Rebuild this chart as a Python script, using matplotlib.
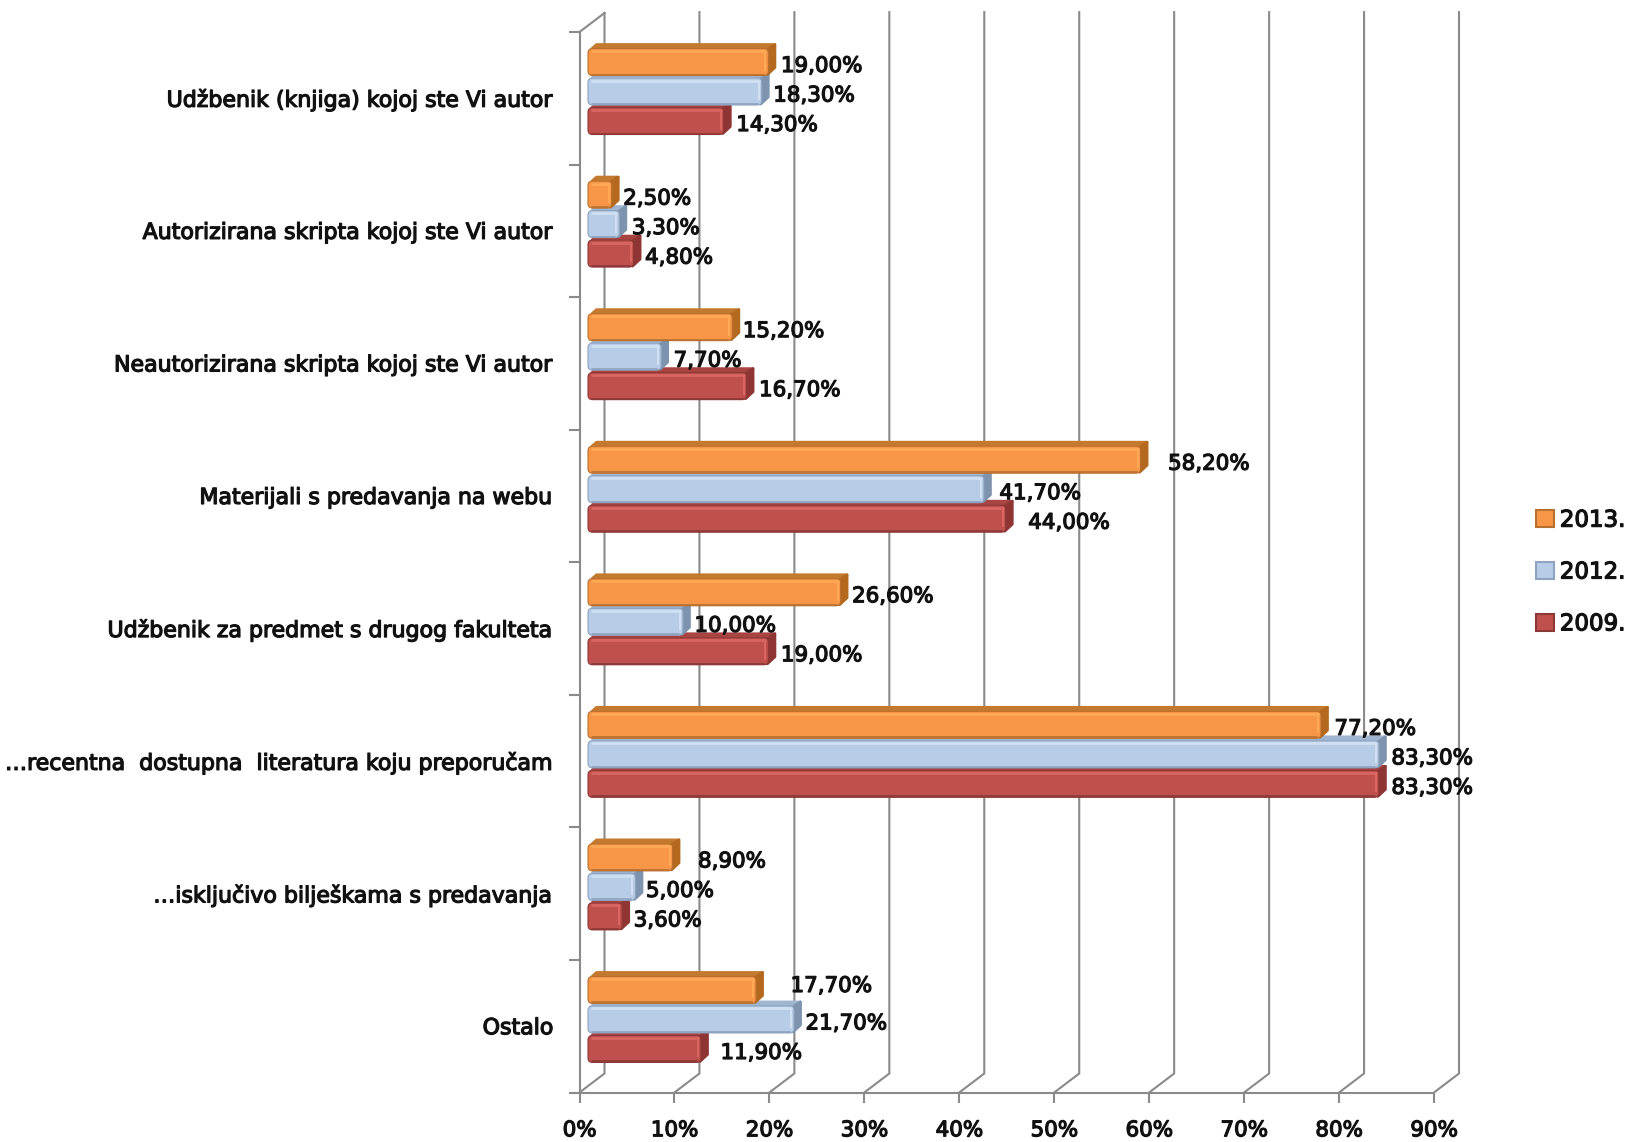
import matplotlib
matplotlib.use('Agg')
import matplotlib.pyplot as plt
import matplotlib.patheffects as pe
from matplotlib.patches import FancyBboxPatch, Polygon, Patch

# datos
categorias = ["Udžbenik (knjiga) kojoj ste Vi autor", "Autorizirana skripta kojoj ste Vi autor",
              "Neautorizirana skripta kojoj ste Vi autor", "Materijali s predavanja na webu",
              "Udžbenik za predmet s drugog fakulteta", "…recentna  dostupna  literatura koju preporučam",
              "…isključivo bilješkama s predavanja", "Ostalo"]
val_2013 = [19.0, 2.5, 15.2, 58.2, 26.6, 77.2, 8.9, 17.7]
val_2012 = [18.3, 3.3, 7.7, 41.7, 10.0, 83.3, 5.0, 21.7]
val_2009 = [14.3, 4.8, 16.7, 44.0, 19.0, 83.3, 3.6, 11.9]
anios = ["2013.", "2012.", "2009."]
ticks_x = [0, 10, 20, 30, 40, 50, 60, 70, 80, 90]

# separacion de cada etiqueta respecto a su barra (px), como en el original
gap_2013 = [5, 4, 3, 20, 4, 6, 18, 27]
gap_2012 = [4, 5, 5, 8, 4, 5, 3, 4]
gap_2009 = [5, 4, 5, 15, 5, 5, 4, 12]
sube_2013 = [0, 0, 0, 0, 0, 0, 0, 8]

W, H = 1628, 1142
fig = plt.figure(figsize=(W / 100, H / 100), dpi=100)
ax = fig.add_axes([579.5 / W, 1 - 1092.5 / H, 854.5 / W, 1060.5 / H])
ax.set_xlim(0, 90)
ax.set_ylim(8, 0)

px_x = 90 / 854.5
px_y = 8 / 1060.5
grid_col = '#8a8a8a'
lw_grid = 1.5
pared_x = 25 * px_x
pared_y = 19 * px_y
texto = 15.4
# DejaVu normal con un trazo fino: mas parecido al negrita estrecho del original
grueso = [pe.withStroke(linewidth=0.9, foreground='#111111')]

# paredes y cuadricula falsa 3D
for t in ticks_x:
    ax.plot([t, t + pared_x, t + pared_x], [8, 8 - pared_y, -0.15 if t else -pared_y],
            color=grid_col, lw=lw_grid, clip_on=False, zorder=1, solid_joinstyle='miter')
ax.plot([0, pared_x], [0, -pared_y], color=grid_col, lw=lw_grid, clip_on=False, zorder=1)

for s in ['top', 'right']:
    ax.spines[s].set_visible(False)
for s in ['left', 'bottom']:
    ax.spines[s].set_color(grid_col)
    ax.spines[s].set_linewidth(lw_grid)

ax.set_xticks(ticks_x)
ax.set_xticklabels([f"{t}%" for t in ticks_x], fontsize=texto, color='#111111', path_effects=grueso)
ax.tick_params(axis='x', length=7, width=lw_grid, color=grid_col, pad=13)
ax.set_yticks(range(9))
ax.set_yticklabels([])
ax.tick_params(axis='y', length=8, width=lw_grid, color=grid_col)

# nombres de categoria (en el centro de cada banda)
for i, c in enumerate(categorias):
    ax.annotate(c, (0, i + 0.5), xytext=(-26, -2), textcoords='offset pixels', ha='right', va='center',
                fontsize=15.9, color='#111111', annotation_clip=False, path_effects=grueso)

inicio = 8.5 * px_x
prof_x = 7.5 * px_x
prof_y = 5.5 * px_y
alto = 27 * px_y
paso = 29.5 * px_y
centro = 0.449
aspecto = px_y / px_x


def barra(y, v, cara, claro, oscuro, lado, techo, gap, sube, z):
    x0, x1 = inicio, inicio + v
    y0, y1 = y - alto / 2, y + alto / 2
    # techo y lado con esquinas suaves
    ax.add_patch(Polygon([(x0 + 4 * px_x, y0), (x0 + prof_x + 1 * px_x, y0 - prof_y + 1.5 * px_y),
                          (x1 + prof_x - 1 * px_x, y0 - prof_y + 1.5 * px_y), (x1, y0 + 2 * px_y)],
                         closed=True, fc=techo, ec=techo, lw=2, zorder=z, joinstyle='round'))
    ax.add_patch(Polygon([(x1 - 1 * px_x, y0 + 1 * px_y), (x1 + prof_x - 1 * px_x, y0 - prof_y + 1.5 * px_y),
                          (x1 + prof_x - 1 * px_x, y1 - prof_y - 2.5 * px_y), (x1 - 1 * px_x, y1 - 1 * px_y)],
                         closed=True, fc=lado, ec=lado, lw=2, zorder=z, joinstyle='round'))
    caja = dict(boxstyle=f"round,pad=0,rounding_size={4.5 * px_x}", mutation_aspect=aspecto)
    ax.add_patch(FancyBboxPatch((x0, y0), v, alto, fc=cara, ec=oscuro, lw=0.8, zorder=z + 0.1, **caja))
    # brillo arriba, sombra abajo y borde derecho
    ax.plot([x0 + 4 * px_x, x1 - 3 * px_x], [y0 + 2.5 * px_y] * 2, color=claro, lw=2, zorder=z + 0.2,
            solid_capstyle='round')
    ax.plot([x0 + 4 * px_x, x1 - 4 * px_x], [y1 - 1 * px_y] * 2, color=oscuro, lw=1.2, zorder=z + 0.2,
            solid_capstyle='round')
    ax.plot([x1 - 3 * px_x] * 2, [y0 + 3 * px_y, y1 - 6 * px_y], color=claro, lw=1.5, zorder=z + 0.2)
    ax.annotate(f"{v:.2f}%".replace('.', ','), (x1 + prof_x, y), xytext=(gap, -4 + sube), textcoords='offset pixels',
                ha='left', va='center', fontsize=texto, color='#111111', zorder=10, path_effects=grueso)


estilo_2009 = ('#C0504D', '#D96663', '#8C3836', '#8F3533', '#A84542')
estilo_2012 = ('#B7CCE6', '#CFE0F3', '#8EA3BF', '#7E93AE', '#A0B5D0')
estilo_2013 = ('#F79646', '#FDA955', '#B9702F', '#B5691F', '#C47A2E')

for i in range(len(categorias)):
    yc = i + centro
    barra(yc + paso, val_2009[i], *estilo_2009, gap_2009[i], 0, 3)
    barra(yc, val_2012[i], *estilo_2012, gap_2012[i], 0, 4)
    barra(yc - paso, val_2013[i], *estilo_2013, gap_2013[i], sube_2013[i], 5)

# leyenda cortada por el borde derecho, como en el original
colores = [estilo_2013, estilo_2012, estilo_2009]
handles = [Patch(fc=c[0], ec=c[2], lw=1.5) for c in colores]
ley = fig.legend(handles, anios, loc='center left', bbox_to_anchor=(1536 / W, 1 - 572 / H), frameon=False,
                 prop={'size': 16.5}, handlelength=0.78, handleheight=0.78, handletextpad=0.26,
                 labelspacing=1.26, borderpad=0, borderaxespad=0)
for t in ley.get_texts():
    t.set_color('#111111')
    t.set_path_effects(grueso)

fig.savefig('out.png', dpi=100)
